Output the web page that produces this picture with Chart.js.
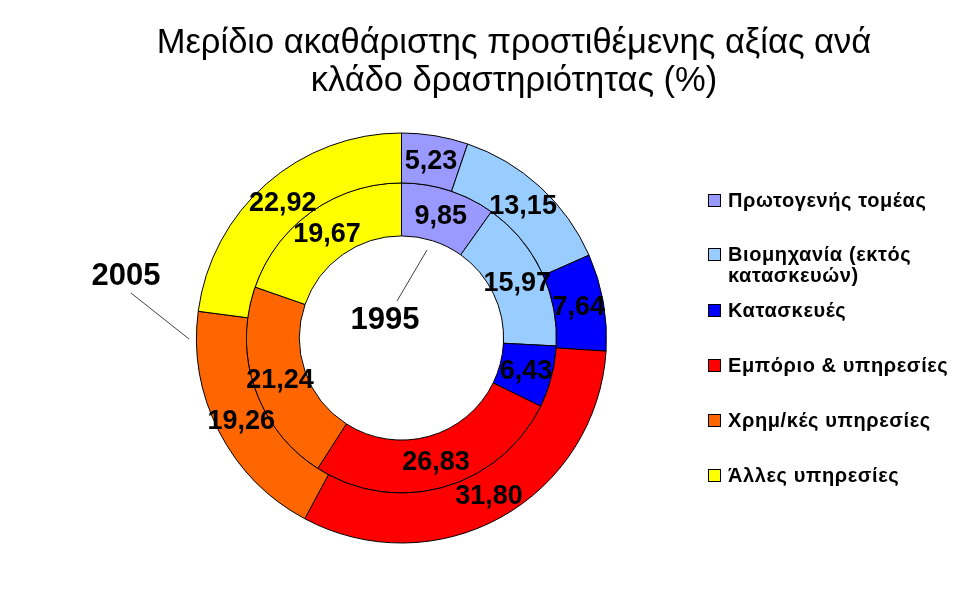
<!DOCTYPE html>
<html>
<head>
<meta charset="utf-8">
<script src="https://cdn.jsdelivr.net/npm/chart.js@4.4.1/dist/chart.umd.min.js"></script>
<style>
  body { margin: 0; background: #fff; font-family: "Liberation Sans", Arial, sans-serif; }
  #wrap { position: relative; width: 977px; height: 600px; overflow: hidden; }
  #myChart { position: absolute; left: 0; top: 0; }
  #title { position: absolute; left: 114px; top: 22px; width: 800px; text-align: center;
           font-size: 34.5px; line-height: 38px; color: #000; }
  .item { position: absolute; left: 708px; width: 268px; font-size: 20px; font-weight: bold;
          letter-spacing: 0.6px; line-height: 21px; color: #000; }
  .item .box { position: absolute; left: 0; top: 4px; width: 13px; height: 13px;
               box-sizing: border-box; border: 1px solid #000; }
  .item .txt { margin-left: 20px; width: 248px; }
</style>
</head>
<body>
<div id="wrap">
  <canvas id="myChart" width="977" height="600"></canvas>
  <div id="title">Μερίδιο ακαθάριστης προστιθέμενης αξίας ανά<br>κλάδο δραστηριότητας (%)</div>
  <div id="legend"></div>
</div>
<script>
const sectors = ['Πρωτογενής τομέας', 'Βιομηχανία (εκτός κατασκευών)', 'Κατασκευές',
                 'Εμπόριο & υπηρεσίες', 'Χρημ/κές υπηρεσίες', 'Άλλες υπηρεσίες'];
const share2005 = [5.23, 13.15, 7.64, 31.80, 19.26, 22.92];
const share1995 = [9.85, 15.97, 6.43, 26.83, 21.24, 19.67];
const years = ['2005', '1995'];
const colors = ['#9999FF', '#99CCFF', '#0000FF', '#FF0000', '#FF6600', '#FFFF00'];

// legend rows (vertical centre of first text line)
const legendY = [200, 254, 310, 365, 420, 475];
const legend = document.getElementById('legend');
sectors.forEach((name, i) => {
    const div = document.createElement('div');
    div.className = 'item';
    div.style.top = (legendY[i] - 10.5) + 'px';
    div.innerHTML = '<div class="box" style="background:' + colors[i] + '"></div><div class="txt">' + name + '</div>';
    legend.appendChild(div);
});

const labelPlugin = {
    id: 'ringLabels',
    afterDatasetsDraw(chart) {
        const c = chart.ctx;
        c.save();
        c.fillStyle = '#000';
        c.textAlign = 'center';
        c.textBaseline = 'middle';
        c.font = "bold 27px 'Liberation Sans', Arial, sans-serif";
        chart.data.datasets.forEach((ds, di) => {
            chart.getDatasetMeta(di).data.forEach((arc, i) => {
                const p = arc.getCenterPoint();
                c.fillText(ds.data[i].toFixed(2).replace('.', ','), p.x, p.y + 1);
            });
        });

        // ring names with leader lines
        c.strokeStyle = '#404040';
        c.lineWidth = 1;
        c.beginPath();
        c.moveTo(131, 293);
        c.lineTo(189, 339);
        c.moveTo(427, 250);
        c.lineTo(397, 301);
        c.stroke();
        c.font = "bold 31px 'Liberation Sans', Arial, sans-serif";
        c.fillText(years[0], 126, 276);
        c.fillText(years[1], 385, 320);
        c.restore();
    }
};

const ctx = document.getElementById('myChart');
new Chart(ctx, {
    type: 'doughnut',
    data: {
        labels: sectors,
        datasets: [{
            label: years[0],
            data: share2005,
            backgroundColor: colors,
            borderColor: '#000',
            borderWidth: 1,
            weight: 50
        }, {
            label: years[1],
            data: share1995,
            backgroundColor: colors,
            borderColor: '#000',
            borderWidth: 1,
            weight: 53
        }]
    },
    options: {
        responsive: false,
        animation: false,
        devicePixelRatio: 1,
        cutout: '49.8%',
        layout: { padding: { left: 196, right: 370, top: 132, bottom: 56 } },
        plugins: {
            legend: { display: false },
            tooltip: { enabled: false }
        }
    },
    plugins: [labelPlugin]
});
</script>
</body>
</html>
